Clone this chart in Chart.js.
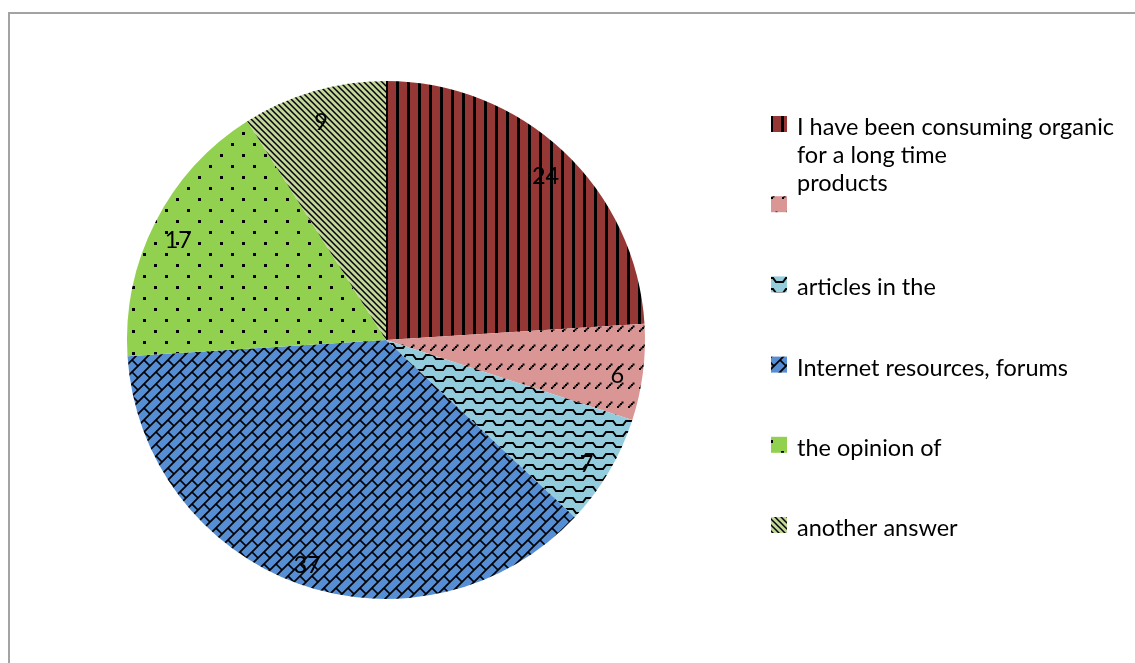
<!DOCTYPE html>
<html>
<head>
<meta charset="utf-8">
<script src="https://cdn.jsdelivr.net/npm/chart.js@4.4.1/dist/chart.umd.min.js"></script>
<style>
  html, body { margin: 0; padding: 0; background: #fff; }
  #wrap { position: relative; width: 1135px; height: 663px; overflow: hidden; }
  #frame {
    position: absolute; left: 8px; top: 12px; width: 1300px; height: 900px;
    border-left: 2px solid #a3a3a3; border-top: 2px solid #a3a3a3;
  }
  #box { position: absolute; left: 0; top: 0; width: 1135px; height: 663px; }
</style>
</head>
<body>
<div id="wrap">
  <div id="frame"></div>
  <div id="box"><canvas id="pieChart"></canvas></div>
</div>
<script>
// data
const categories = [
    ['I have been consuming organic', 'for a long time', 'products'],
    [''],
    ['articles in the'],
    ['Internet resources, forums'],
    ['the opinion of'],
    ['another answer']
];
const values = [24, 6, 7, 37, 17, 9];

// slice look
const sliceColors = ['#953735', '#d99694', '#93cddd', '#558ed5', '#92d050', '#c3d69b'];
const sliceFills = ['vstripe', 'dash', 'wave', 'weave', 'dots', 'diag'];

const FONT = '23.5px Lato, "Noto Sans", sans-serif';

/**
 * Hatch patterns (Excel style pattern fills)
 */
function makePattern(kind, bg) {
    const t = document.createElement('canvas');
    const sizes = { vstripe: [11, 4], dash: [11, 19], wave: [20, 11], weave: [24, 24], dots: [22, 22], diag: [6, 6] };
    const [w, h] = sizes[kind];
    t.width = w; t.height = h;
    const c = t.getContext('2d');
    c.fillStyle = bg;
    c.fillRect(0, 0, w, h);
    c.fillStyle = '#000';
    c.strokeStyle = '#000';

    if (kind === 'vstripe') {
        c.fillRect(0, 0, 3, h);
    } else if (kind === 'dash') {
        for (let i = 0; i < 4; i++) c.fillRect(1 + i * 1.5, 7 - i * 1.5, 2, 2);
    } else if (kind === 'wave') {
        c.lineWidth = 2;
        c.beginPath();
        c.moveTo(-1, 7); c.lineTo(3, 7); c.lineTo(6, 3); c.lineTo(13, 3); c.lineTo(16, 7); c.lineTo(21, 7);
        c.stroke();
    } else if (kind === 'weave') {
        c.lineWidth = 1.7;
        for (let k = -2; k <= 5; k++) {
            const cc = k * 12;
            c.beginPath(); c.moveTo(cc + 30, -30); c.lineTo(cc - 30, 30); c.stroke();
            for (let m = -3; m <= 3; m++) {
                const d = (Math.abs(k) % 2 === 0 ? 0 : 12) + m * 24;
                c.beginPath();
                c.moveTo((cc + d) / 2, (cc - d) / 2);
                c.lineTo((cc + 12 + d) / 2, (cc + 12 - d) / 2);
                c.stroke();
            }
        }
    } else if (kind === 'dots') {
        c.fillRect(0, 0, 3, 3);
        c.fillRect(11, 11, 3, 3);
    } else if (kind === 'diag') {
        c.lineWidth = 1.5;
        [-6, 0, 6].forEach(o => {
            c.beginPath(); c.moveTo(o - 1, -1); c.lineTo(o + 7, 7); c.stroke();
        });
    }
    return c.createPattern(t, 'repeat');
}

const fills = sliceColors.map((col, i) => makePattern(sliceFills[i], col));

/**
 * Value labels inside the slices, near the rim
 */
const valueLabels = {
    id: 'valueLabels',
    afterDatasetsDraw(chart) {
        const ctx = chart.ctx;
        const meta = chart.getDatasetMeta(0);
        ctx.save();
        ctx.font = FONT;
        ctx.fillStyle = '#000';
        ctx.textAlign = 'center';
        ctx.textBaseline = 'middle';
        meta.data.forEach((arc, i) => {
            const p = arc.getProps(['x', 'y', 'startAngle', 'endAngle', 'outerRadius'], true);
            const mid = (p.startAngle + p.endAngle) / 2;
            const r = p.outerRadius * 0.9;
            ctx.fillText(String(values[i]), p.x + Math.cos(mid) * r, p.y + Math.sin(mid) * r + 6);
        });
        ctx.restore();
    }
};

/**
 * Legend on the right, drawn by hand so the swatches keep their hatch
 */
const sideLegend = {
    id: 'sideLegend',
    afterDraw(chart) {
        const ctx = chart.ctx;
        const left = 771, top = 116, step = 80.2, lineH = 28;
        ctx.save();
        ctx.font = FONT;
        ctx.textAlign = 'left';
        ctx.textBaseline = 'alphabetic';
        categories.forEach((lines, i) => {
            const y = top + i * step;
            ctx.fillStyle = fills[i];
            ctx.fillRect(left, y, 16, 16);
            ctx.fillStyle = '#000';
            lines.forEach((txt, j) => ctx.fillText(txt, left + 26, y + 19 + j * lineH));
        });
        ctx.restore();
    }
};

function initPie() {
    const canvas = document.getElementById('pieChart');
    new Chart(canvas.getContext('2d'), {
        type: 'pie',
        data: {
            labels: categories.map(l => l.join(' ')),
            datasets: [{
                data: values,
                backgroundColor: fills,
                borderWidth: 0,
                hoverOffset: 0,
                offset: 0
            }]
        },
        options: {
            responsive: true,
            maintainAspectRatio: false,
            animation: false,
            events: [],
            layout: { padding: { left: 127, right: 490, top: 81, bottom: 64 } },
            plugins: {
                legend: { display: false },
                tooltip: { enabled: false }
            }
        },
        plugins: [valueLabels, sideLegend]
    });
}

document.addEventListener('DOMContentLoaded', initPie);
</script>
</body>
</html>
